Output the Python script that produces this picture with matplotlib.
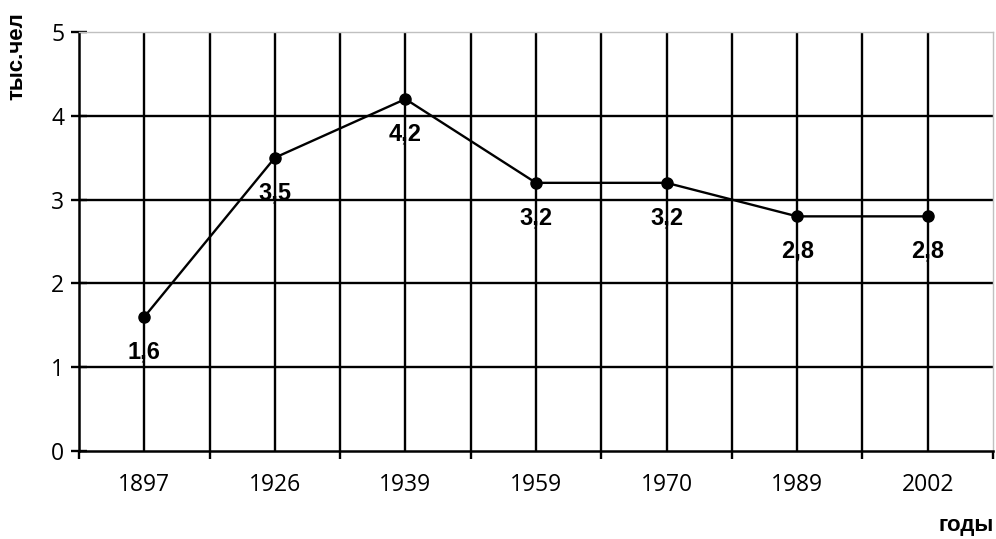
import matplotlib
matplotlib.use("Agg")
import matplotlib.pyplot as plt
import numpy as np
from matplotlib.ticker import FixedLocator, NullFormatter

years = ["1897", "1926", "1939", "1959", "1970", "1989", "2002"]
population = [1.6, 3.5, 4.2, 3.2, 3.2, 2.8, 2.8]
value_labels = ["1,6", "3,5", "4,2", "3,2", "3,2", "2,8", "2,8"]
y_ticks = [0, 1, 2, 3, 4, 5]

fig = plt.figure(figsize=(9.96, 5.39), dpi=100)
ax = fig.add_axes([79/996, 1-451/539, (993-79)/996, (451-32)/539])

x = np.arange(len(years))
ax.set_xlim(-0.5, len(years) - 0.5)
ax.set_ylim(0, 5)

lw = 1.7
# grid lines
for yv in y_ticks[1:-1]:
    ax.axhline(yv, color="black", lw=lw, zorder=1)
for xv in x:
    ax.axvline(xv, color="black", lw=lw, zorder=1)
for xv in np.arange(0.5, len(years) - 1, 1.0):
    ax.axvline(xv, color="black", lw=lw, zorder=1)

ax.plot(x, population, color="black", lw=1.7, marker="o", markersize=8, zorder=3)

label_font = ["Liberation Sans Narrow", "Liberation Sans", "DejaVu Sans"]
for xi, yi, lab in zip(x, population, value_labels):
    ax.annotate(lab, (xi, yi), xytext=(0, -35), textcoords="offset pixels",
                ha="center", va="center", fontsize=17, fontweight="bold",
                family=label_font, zorder=4)

# x axis ticks at category boundaries, labels at centers
ax.xaxis.set_major_locator(FixedLocator(np.arange(-0.5, len(years), 1.0)))
ax.xaxis.set_major_formatter(NullFormatter())
ax.xaxis.set_minor_locator(FixedLocator(x))
ax.set_xticklabels(years, minor=True)
ax.tick_params(axis="x", which="major", direction="out", length=6, width=1.7, color="black")
ax.tick_params(axis="x", which="minor", length=0, pad=16, labelsize=16.5)
ax.set_yticks(y_ticks)
ax.tick_params(axis="y", direction="inout", length=11, width=1.7, pad=5, labelsize=16.5)
for lab in ax.get_xticklabels(minor=True) + ax.get_yticklabels():
    lab.set_family(["Open Sans", "DejaVu Sans"])

for s in ["left", "bottom"]:
    ax.spines[s].set_linewidth(1.8)
    ax.spines[s].set_color("black")
for s in ["top", "right"]:
    ax.spines[s].set_linewidth(1.0)
    ax.spines[s].set_color("#c0c0c0")

fig.text(17/996, 1-56/539, "тыс.чел", rotation=90, ha="center", va="center",
         fontsize=16, fontweight="bold", family=["Liberation Sans", "DejaVu Sans"])
fig.text(966/996, 1-525/539, "годы", ha="center", va="center",
         fontsize=16, fontweight="bold", family=["Liberation Sans", "DejaVu Sans"])

fig.savefig("out.png", dpi=100)
